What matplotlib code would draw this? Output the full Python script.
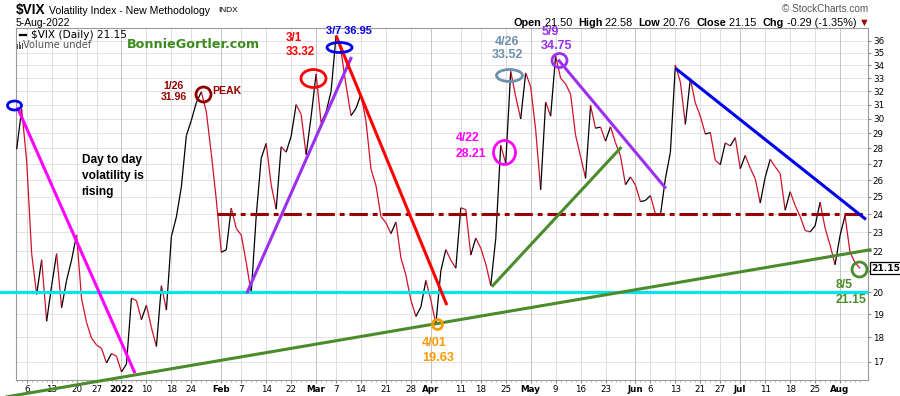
"""Recreate the StockCharts $VIX daily chart with hand-drawn trend annotations."""

import matplotlib
import numpy as np
import pandas as pd

matplotlib.use("Agg")
import matplotlib.pyplot as plt
from matplotlib.collections import LineCollection
from matplotlib.lines import Line2D
from matplotlib.patches import Rectangle
from matplotlib.path import Path
from matplotlib.transforms import Affine2D, blended_transform_factory

# ---- data -------------------------------------------------------------
HOLIDAYS = ["2021-12-24", "2022-01-17", "2022-02-21", "2022-04-15",
            "2022-05-30", "2022-06-20", "2022-07-04"]
DATES = pd.bdate_range("2021-12-02", "2022-08-05", freq="C", holidays=HOLIDAYS)

VIX_CLOSE = [
    # Dec 2021
    27.95, 30.67, 27.18, 21.89, 19.90, 21.58, 18.69, 20.31, 21.89, 19.29, 20.57,
    21.57, 22.87, 19.70, 18.63, 17.96, 17.68, 17.54, 16.95, 17.33, 17.22,
    # Jan 2022
    16.60, 16.91, 19.73, 19.61, 18.76, 19.40, 18.41, 17.62, 20.31, 19.19,
    22.79, 23.85, 25.59, 28.85, 29.90, 31.16, 31.96, 30.49, 27.66, 24.83,
    # Feb
    21.96, 22.09, 24.35, 23.22, 22.86, 21.44, 19.96, 23.91, 27.36, 28.33,
    25.70, 24.29, 28.11, 27.75, 28.81, 31.02, 30.32, 27.59, 30.15,
    # Mar
    33.32, 29.74, 30.48, 31.98, 36.45, 35.13, 32.45, 30.23, 30.75, 31.77,
    29.83, 26.67, 25.67, 23.87, 23.53, 22.94, 23.57, 21.67, 20.81, 19.63,
    18.90, 19.33, 20.56,
    # Apr
    19.63, 18.57, 21.03, 22.10, 21.55, 21.16, 24.37, 24.26, 21.82, 22.70,
    22.17, 21.37, 20.32, 22.68, 28.21, 27.02, 33.52, 31.60, 29.99, 33.40,
    # May
    32.34, 29.25, 25.42, 31.20, 30.19, 34.75, 32.99, 32.56, 31.77, 28.87,
    27.47, 26.10, 30.96, 29.35, 29.43, 28.48, 29.45, 28.37, 27.50, 25.72, 26.19,
    # Jun
    25.69, 24.72, 24.79, 25.07, 24.02, 23.96, 26.09, 27.75, 34.02, 32.69,
    29.62, 32.95, 31.13, 30.19, 28.95, 29.05, 27.23, 26.95, 28.36, 28.16, 28.71,
    # Jul
    26.70, 27.54, 26.73, 26.08, 24.64, 26.17, 27.29, 26.82, 26.40, 24.23,
    25.30, 24.50, 23.88, 23.11, 23.03, 23.36, 24.69, 23.24, 22.33, 21.33,
    # Aug
    22.84, 23.93, 21.95, 21.44, 21.15,
]

TICK_DATES = [
    "2021-12-06", "2021-12-13", "2021-12-20", "2021-12-27", "2022-01-03",
    "2022-01-10", "2022-01-18", "2022-01-24", "2022-02-01", "2022-02-07",
    "2022-02-14", "2022-02-22", "2022-03-01", "2022-03-07", "2022-03-14",
    "2022-03-21", "2022-03-28", "2022-04-01", "2022-04-11", "2022-04-18",
    "2022-04-25", "2022-05-02", "2022-05-09", "2022-05-16", "2022-05-23",
    "2022-06-01", "2022-06-06", "2022-06-13", "2022-06-21", "2022-06-27",
    "2022-07-01", "2022-07-11", "2022-07-18", "2022-07-25", "2022-08-01",
]
TICK_LABELS = [
    "6", "13", "20", "27", "2022", "10", "18", "24", "Feb", "7", "14", "22",
    "Mar", "7", "14", "21", "28", "Apr", "11", "18", "25", "May", "9", "16",
    "23", "Jun", "6", "13", "21", "27", "Jul", "11", "18", "25", "Aug",
]
BOLD_LABELS = {"2022", "Feb", "Mar", "Apr", "May", "Jun", "Jul", "Aug"}
Y_TICKS = list(range(17, 37))
HIDDEN_Y_LABELS = {21}  # covered by the last-price tag

# trend lines drawn on the chart: (start day, start value, end day, end value)
MAGENTA_LINE = (0.12, 30.82, 23.7, 16.55)
PURPLE_LINE_1 = (46.1, 19.95, 67.1, 34.67)
RED_LINE = (64.0, 36.44, 86.2, 19.41)
GREEN_SHORT_LINE = (95.2, 20.26, 121.2, 28.09)
PURPLE_LINE_2 = (108.5, 34.46, 130.1, 25.49)
BLUE_LINE = (132.1, 33.74, 170.2, 23.71)
GREEN_LONG_LINE = (-3.35, 15.62, 171.3, 22.10)
SUPPORT_LEVEL = 20.0
SUPPORT_SPAN = (-3.35, 170.2)
RESIST_LEVEL = 24.0
RESIST_SPAN = (40.1, 170.2)

# highlighted points: (day, value, width px, height px, colour)
HIGHLIGHTS = [
    (-0.48, 31.0, 14, 9, "#0000ee"),
    (37.4, 31.8, 15, 15, "#8b0000"),
    (59.4, 33.0, 25, 18, "#ff0000"),
    (64.65, 35.5, 25, 10, "#0000ee"),
    (84.2, 18.56, 10, 10, "#ff9900"),
    (97.65, 27.76, 22, 24, "#ff00ff"),
    (98.66, 33.26, 26, 12, "#6d90ad"),
    (108.67, 34.46, 15, 14, "#9b30f0"),
    (168.8, 21.11, 15, 15, "#4b8b2b"),
]

# (day, value, text, colour, size, ha, line spacing)
NOTES = [
    (31.5, 31.97, "1/26\n31.96", "#990000", 7.6, "center", 1.09),
    (39.1, 31.99, "PEAK", "#990000", 7.6, "left", 1.0),
    (54.0, 35.69, "3/1\n33.32", "#ff0000", 8.4, "left", 1.23),
    (62.0, 36.86, "3/7 36.95", "#0000ee", 7.9, "left", 1.0),
    (98.3, 35.37, "4/26\n33.52", "#6d90ad", 9.0, "center", 1.15),
    (105.1, 36.16, "5/9\n34.75", "#9b30f0", 9.0, "left", 1.23),
    (88.0, 28.15, "4/22\n28.21", "#ff00ff", 8.8, "left", 1.36),
    (81.2, 17.44, "4/01\n19.63", "#ff9900", 9.2, "left", 1.37),
    (164.2, 19.98, "8/5\n21.15", "#4b8b2b", 8.8, "left", 1.32),
    (13.0, 26.25, "Day to day\nvolatility is\nrising", "black", 8.6, "left", 1.44),
]

UP_COLOR = "black"
DOWN_COLOR = "#d0102c"
W, H = 900, 396


def fig_xy(x_px, y_px):
    return x_px / W, 1 - y_px / H


def ellipse_marker(width, height):
    scale = max(width, height)
    return Path.unit_circle().transformed(Affine2D().scale(width / scale, height / scale))


def trend(ax, line, color, **kw):
    x0, y0, x1, y1 = line
    ax.plot([x0, x1], [y0, y1], color=color, lw=2.2, solid_capstyle="butt", zorder=5, **kw)


def main():
    assert len(DATES) == len(VIX_CLOSE)
    day_index = {d.strftime("%Y-%m-%d"): i for i, d in enumerate(DATES)}
    days = np.arange(len(DATES))
    close = np.asarray(VIX_CLOSE)

    fig = plt.figure(figsize=(W / 100, H / 100), dpi=100)
    ax = fig.add_axes([16 / W, 16 / H, 852 / W, 352 / H])

    ax.set_yscale("log")
    ax.set_ylim(16.29, 37.1)
    ax.set_xlim(-0.14, 170.6)

    # grid
    tick_pos = [day_index[d] for d in TICK_DATES]
    for v in Y_TICKS:
        ax.axhline(v, color="#e2e2e2", lw=0.7, zorder=0)
    for pos, lab in zip(tick_pos, TICK_LABELS):
        ax.axvline(pos, color="#c4c4c4" if lab in BOLD_LABELS else "#dedede", lw=0.7, zorder=0)

    # price line, black when rising, red when falling
    pts = np.column_stack([days, close])
    segs = np.stack([pts[:-1], pts[1:]], axis=1)
    colors = [UP_COLOR if b >= a else DOWN_COLOR for a, b in zip(close[:-1], close[1:])]
    ax.add_collection(LineCollection(segs, colors=colors, linewidths=0.9, zorder=3))

    # support / resistance and trend lines
    ax.plot(SUPPORT_SPAN, [SUPPORT_LEVEL] * 2, color="#00e5ee", lw=2.3, zorder=4, clip_on=False)
    ax.plot(RESIST_SPAN, [RESIST_LEVEL] * 2, color="#990000", lw=2.2, zorder=4,
            dashes=(6, 1.6, 1.6, 1.6))
    trend(ax, MAGENTA_LINE, "#ff00ff")
    trend(ax, PURPLE_LINE_1, "#9b30f0")
    trend(ax, RED_LINE, "#ff0000")
    trend(ax, GREEN_SHORT_LINE, "#4b8b2b")
    trend(ax, PURPLE_LINE_2, "#9b30f0")
    trend(ax, BLUE_LINE, "#0000ee", clip_on=False)
    trend(ax, GREEN_LONG_LINE, "#4b8b2b", clip_on=False)

    for x, y, w, h, c in HIGHLIGHTS:
        ax.plot([x], [y], marker=ellipse_marker(w, h), markersize=max(w, h) * 0.72,
                mfc="none", mec=c, mew=2.0, zorder=6, clip_on=False)

    for x, y, s, c, size, ha, spacing in NOTES:
        ax.text(x, y, s, color=c, fontsize=size, fontweight="bold", ha=ha, va="center",
                family="Liberation Sans", linespacing=spacing, zorder=7)

    # axes styling
    ax.yaxis.tick_right()
    ax.set_yticks(Y_TICKS)
    ax.set_yticklabels(["" if v in HIDDEN_Y_LABELS else str(v) for v in Y_TICKS])
    ax.yaxis.set_minor_locator(matplotlib.ticker.NullLocator())
    ax.set_xticks(tick_pos)
    ax.set_xticklabels(TICK_LABELS)
    for lab in ax.get_xticklabels():
        if lab.get_text() in BOLD_LABELS:
            lab.set_fontweight("bold")
    ax.set_xticks(days, minor=True)
    ax.tick_params(axis="both", which="major", labelsize=6.3, length=2, color="#888888", pad=1.5)
    ax.tick_params(axis="x", which="minor", length=1.5, color="#aaaaaa")
    for spine in ax.spines.values():
        spine.set_color("#999999")
        spine.set_linewidth(0.8)

    # last price tag
    tag = blended_transform_factory(ax.transAxes, ax.transData)
    ax.text(1.004, close[-1], f"{close[-1]:.2f}", transform=tag, ha="left", va="center",
            fontsize=6.6, fontweight="bold", clip_on=False, zorder=8,
            bbox=dict(boxstyle="square,pad=0.15", fc="white", ec="black", lw=0.9))

    # header
    fig.text(*fig_xy(16, 10), "\\$VIX", fontsize=9.8, fontweight="bold", va="center",
             family="Liberation Sans")
    fig.text(*fig_xy(49, 10.5), "Volatility Index - New Methodology", fontsize=7.6, va="center",
             family="Liberation Sans")
    fig.text(*fig_xy(218, 11), "INDX", fontsize=6.0, va="center", family="Liberation Sans")
    fig.text(*fig_xy(16, 22.5), "5-Aug-2022", fontsize=7.5, va="center", family="Liberation Sans")
    fig.text(*fig_xy(868, 9), "\u00a9 StockCharts.com", fontsize=7.2, va="center", ha="right",
             color="#555555", family="Liberation Sans")

    pieces = [("Open", "bold", "black"), (" 21.50  ", "normal", "black"),
              ("High", "bold", "black"), (" 22.58  ", "normal", "black"),
              ("Low", "bold", "black"), (" 20.76  ", "normal", "black"),
              ("Close", "bold", "black"), (" 21.15  ", "normal", "black"),
              ("Chg", "bold", "black"), (" -0.29 (-1.35%) ", "normal", "black"),
              ("\u25bc", "normal", "#990000")]
    prev = fig.text(*fig_xy(514, 22.5), pieces[0][0], fontsize=7.8, fontweight="bold",
                    va="center", family="Liberation Sans")
    for s, weight, c in pieces[1:]:
        prev = ax.annotate(s, xy=(1, 0), xycoords=prev, va="bottom", ha="left", fontsize=7.8,
                           fontweight=weight, color=c, family="Liberation Sans",
                           annotation_clip=False)

    # legend block inside the chart
    fig.add_artist(Line2D([20 / W, 26 / W], [1 - 35 / H] * 2, color="black", lw=1.6))
    fig.text(*fig_xy(31, 35), "\\$VIX (Daily) 21.15", fontsize=7.6, va="center")
    for i, hgt in enumerate([5, 7, 4, 6]):
        fig.add_artist(Rectangle(((17 + i * 1.5) / W, 1 - 49 / H), 1.0 / W, hgt / H,
                                 color="#555555", lw=0))
    fig.text(*fig_xy(23, 45.5), "Volume undef", fontsize=7.1, va="center", color="#555555")
    fig.text(*fig_xy(127, 44), "BonnieGortler.com", fontsize=9.2, fontweight="bold",
             va="center", color="#3d8c1e")

    fig.savefig("out.png", dpi=100)
    plt.close(fig)


if __name__ == "__main__":
    main()
